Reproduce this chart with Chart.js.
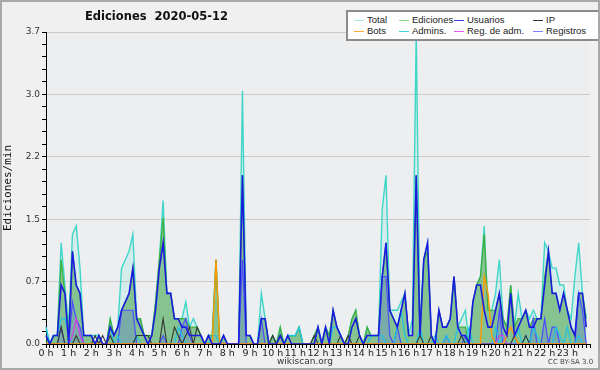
<!DOCTYPE html>
<html>
<head>
<meta charset="utf-8">
<script src="https://cdn.jsdelivr.net/npm/chart.js@4/dist/chart.umd.min.js"></script>
<style>
  body { margin: 0; background: #f0f0f0; }
  #wrap { position: relative; width: 600px; height: 370px; }
  #frame { position: absolute; left: 0; top: 0; width: 600px; height: 370px; box-sizing: border-box; border: 2px solid #a9a9a9; pointer-events: none; }
  #title { position: absolute; left: 85px; top: 9px; font: bold 11.5px "DejaVu Sans"; white-space: pre; color: #111; }
  #legend { position: absolute; left: 346px; top: 10px; width: 244px; height: 25px; background: #fff; border: 2px solid #8c8c8c; box-sizing: content-box;
            display: grid; grid-template-columns: 45px 55px 79px auto; grid-auto-rows: 11px; padding: 2px 0 0 6px; font: 9.5px "Liberation Sans"; color: #222; }
  #legend div { white-space: nowrap; line-height: 11px; }
  #legend span.s { display: inline-block; width: 10px; height: 1.5px; vertical-align: middle; margin-right: 3px; }
  #foot { position: absolute; left: 277px; top: 356px; font: 9px "DejaVu Sans"; color: #333; }
  #cc { position: absolute; left: 548px; top: 358px; font: 7px "DejaVu Sans"; color: #444; }
</style>
</head>
<body>
<div id="wrap">
  <canvas id="chart" width="600" height="370"></canvas>
  <div id="title">Ediciones  2020-05-12</div>
  <div id="legend"></div>
  <div id="foot">wikiscan.org</div>
  <div id="cc">CC BY-SA 3.0</div>
  <div id="frame"></div>
</div>
<script>
// 10 minute buckets, 144 per day
const hourLabels = [];
for (let h = 0; h < 24; h++) hourLabels.push(h + " h");

const yTickLabels = ["0.0", "0.7", "1.5", "2.2", "3.0", "3.7"];

const total = [
  0.2,0,0.1,0.1,1.2,0.7,0.2,1.3,1.4,0.9,
  0.1,0.1,0.1,0.1,0.1,0,0,0.3,0.1,0.2,
  0.9,1.0,1.1,1.3,0.3,0.3,0.1,0.1,0.1,0.5,
  1.0,1.7,0.6,0.6,0.3,0.3,0.3,0.5,0.2,0.3,
  0.2,0.1,0,0.1,0.1,1.0,0,0.1,0,0,
  0,0,3.0,0.1,0.1,0,0,0.6,0.3,0,
  0.1,0,0.2,0,0.1,0.1,0.1,0.2,0,0,
  0,0.1,0.2,0,0.2,0.1,0.4,0.2,0.1,0,
  0.1,0.3,0.4,0.1,0,0.2,0.1,0.1,0.1,1.6,
  2.0,0.4,0.4,0.4,0.5,0.6,0.1,0.3,3.7,0.2,
  1.0,1.2,0.1,0,0.4,0.2,0.2,0.3,0.8,0.2,
  0.3,0.4,0,0.5,0.7,0.8,1.4,0.4,0.4,0.6,
  1.0,0.3,0.2,0.7,0.2,0.6,0.3,0.4,0.3,0.4,
  0.3,0.3,1.2,1.1,0.9,0.9,0.7,0.7,0.4,0.3,
  0.8,1.2,0.6,0.3
];
const ediciones = [
  0.1,0,0.1,0.1,1.0,0.6,0.1,1.1,0.7,0.6,
  0.1,0.1,0.1,0,0.1,0,0,0.3,0.1,0.2,
  0.4,0.5,0.6,0.9,0.3,0.3,0.1,0.1,0.1,0.5,
  1.0,1.5,0.6,0.6,0.3,0.3,0.3,0.3,0.2,0.2,
  0.2,0.1,0,0.1,0.1,1.0,0,0.1,0,0,
  0,0,2.0,0.1,0.1,0,0,0.3,0.3,0,
  0.1,0,0.2,0,0.1,0.1,0.1,0.2,0,0,
  0,0.1,0.2,0,0.2,0.1,0.4,0.2,0.1,0,
  0.1,0.3,0.4,0.1,0,0.2,0.1,0.1,0.1,0.8,
  1.2,0.4,0.3,0.2,0.4,0.6,0.1,0.1,2.0,0.1,
  1.0,1.1,0.1,0,0.4,0.2,0.2,0.3,0.8,0.2,
  0.2,0.2,0,0.5,0.7,0.8,1.3,0.4,0.4,0.4,
  0.6,0.3,0.2,0.7,0.2,0.3,0.3,0.4,0.2,0.3,
  0.3,0.3,0.8,1.1,0.6,0.6,0.4,0.6,0.4,0.2,
  0.1,0.6,0.6,0.3
];
const usuarios = [
  0.1,0,0.1,0.1,0.7,0.6,0,1.1,0.7,0.6,
  0.1,0.1,0.1,0,0.1,0,0,0.2,0.1,0.2,
  0.4,0.5,0.6,0.9,0.3,0.2,0.1,0,0.1,0.4,
  0.9,1.2,0.6,0.6,0.3,0.3,0.2,0.2,0.1,0.1,
  0.1,0.1,0,0.1,0,0,0,0.1,0,0,
  0,0,2.0,0.1,0.1,0,0,0.3,0.3,0,
  0,0,0.1,0,0.1,0,0,0,0,0,
  0,0,0.2,0,0.2,0,0.4,0.2,0.1,0,
  0,0.2,0.3,0.1,0,0.1,0.1,0.1,0.1,0.8,
  1.2,0.4,0.3,0.2,0.4,0.6,0.1,0.1,2.0,0.1,
  1.0,1.2,0.1,0,0.4,0.2,0.2,0.3,0.8,0.2,
  0.1,0.1,0,0.5,0.7,0.7,0.4,0.2,0.2,0.4,
  0.6,0.2,0.1,0.6,0.1,0.2,0.3,0.4,0.2,0.2,
  0.3,0.3,0.7,1.1,0.6,0.6,0.4,0.6,0.4,0.2,
  0.1,0.6,0.6,0.2
];
const ip = [
  0,0,0,0,0.2,0,0,0,0.1,0,
  0,0,0,0.1,0,0.1,0,0.1,0,0,
  0,0,0,0,0.1,0.1,0.1,0.1,0,0,
  0,0.3,0,0,0.2,0.1,0,0.1,0.2,0,
  0.2,0.1,0,0,0,0,0,0,0,0,
  0,0,0,0,0,0,0,0,0,0,
  0.1,0,0.1,0,0,0,0,0,0,0,
  0,0.1,0,0,0,0,0,0,0.1,0,
  0.1,0,0,0.1,0,0,0,0,0,0,
  0,0,0,0,0,0,0,0,0,0.1,
  0,0,0.1,0,0,0,0,0,0,0,
  0.1,0,0,0,0,0,0,0,0,0,
  0,0,0,0,0.1,0,0,0.1,0,0,
  0,0,0,0,0,0,0,0,0,0,
  0,0,0,0
];
const bots = [
  0,0,0,0,0,0,0,0,0,0,
  0,0,0,0,0,0,0,0,0,0,
  0,0,0,0,0,0,0,0,0,0,
  0,0,0,0,0,0,0,0,0,0,
  0,0,0,0,0,1.0,0,0,0,0,
  0,0,0,0,0,0,0,0,0,0,
  0,0,0,0,0,0,0,0,0,0,
  0,0,0,0,0,0,0,0,0,0,
  0,0,0,0,0,0,0,0,0,0,
  0,0,0,0,0,0,0,0,0,0,
  0,0,0,0,0,0,0,0,0,0,
  0,0,0,0,0,0,0.8,0.6,0.1,0,
  0,0,0.1,0.2,0.1,0,0,0,0,0,
  0,0,0,0,0,0,0,0,0,0,
  0,0,0,0
];
const admins = [
  0.2,0,0.1,0.1,0.3,0.3,0.1,0,0,0,
  0,0,0,0,0,0,0,0.2,0,0.1,
  0,0,0,0,0.1,0,0,0,0,0,
  0,0,0,0,0,0.2,0.1,0,0,0,
  0,0,0,0,0.1,0.1,0,0,0,0,
  0,0,0,0,0,0,0,0,0,0,
  0,0,0,0,0.1,0.1,0.1,0.2,0,0,
  0,0,0,0,0,0,0.2,0.2,0.1,0,
  0,0,0,0,0,0,0.1,0.1,0.1,0.1,
  0,0,0,0.2,0.4,0.1,0,0,0,0.2,
  0,0,0,0.1,0,0,0.1,0,0,0.2,
  0.1,0,0.2,0,0,0,0,0,0,0.2,
  0,0.1,0,0,0,0.2,0,0.1,0,0.2,
  0.1,0,0,0,0,0.2,0.1,0,0.2,0,
  0,0.1,0,0
];
const regAdm = [
  0,0,0,0,0,0,0,0.1,0.3,0.1,
  0,0,0,0,0,0,0,0,0,0,
  0,0,0,0,0,0,0,0,0,0,
  0,0,0,0,0,0,0,0,0,0,
  0,0,0,0,0,0,0,0,0,0,
  0,0,0,0,0,0,0,0,0,0,
  0,0,0,0,0,0,0,0,0,0,
  0,0,0,0,0,0,0,0,0,0,
  0,0,0,0,0,0,0,0,0,0,
  0,0,0,0,0,0,0,0,0,0,
  0,0,0,0,0,0,0,0,0,0,
  0,0,0,0,0,0,0,0,0,0,
  0.1,0.1,0,0,0,0,0,0,0,0,
  0,0,0,0,0,0,0,0,0,0,
  0,0,0,0
];
const registros = [
  0,0,0,0,0.2,0,0,0.5,0.3,0.2,
  0,0,0,0,0,0,0,0,0,0,
  0.4,0.4,0.4,0.4,0,0,0,0,0,0,
  0,0.1,0,0,0,0,0.2,0.3,0.1,0,
  0,0,0,0,0,0,0,0,0,0,
  0,0,1.0,0,0,0,0,0.3,0,0,
  0,0,0,0,0,0,0,0,0,0,
  0,0,0,0,0,0,0,0,0,0,
  0,0,0,0,0,0,0,0,0,0.8,
  0.8,0.1,0,0.2,0,0,0,0,0,0,
  0,0,0,0,0,0,0.1,0,0,0,
  0,0.1,0,0,0,0,0,0,0,0,
  0.4,0,0,0,0,0,0,0,0,0.3,
  0,0,0.3,0,0.2,0.2,0,0,0,0,
  0,0.6,0.4,0
];

// x axis: one slot per 10 minutes plus the 24 h end
const xLabels = [];
for (let i = 0; i <= 144; i++) xLabels.push(i % 6 === 0 && i < 144 ? hourLabels[i / 6] : "");

const yTicks = [];
for (let k = 0; k <= 25; k++) yTicks.push(+(k * 0.148).toFixed(3));

function line(label, data, color, width, order, fillColor, legendColor) {
  return {
    label: label,
    data: data,
    borderColor: color,
    borderWidth: width,
    backgroundColor: fillColor || color,
    fill: fillColor ? "origin" : false,
    pointRadius: 0,
    tension: 0,
    order: order,
    legendColor: legendColor || color
  };
}

const datasets = [
  line("Total", total, "#3fd6c8", 1.4, 8, "rgba(64,224,208,0.13)", "#a8ece6"),
  line("Ediciones", ediciones, "#3cae3c", 1.2, 7, "rgba(60,160,60,0.52)", "#8ad98a"),
  line("Usuarios", usuarios, "#1b1be0", 1.6, 1, null, "#3838f0"),
  line("IP", ip, "#333333", 1.1, 4),
  line("Bots", bots, "#ff9900", 1.4, 2, null, "#ffaa33"),
  line("Admins.", admins, "#1ec3e6", 1.2, 5, null, "#3fd0ea"),
  line("Reg. de adm.", regAdm, "#d23fe6", 1.2, 3, null, "#e055f0"),
  line("Registros", registros, "#4c4cff", 1.2, 6, "rgba(80,80,255,0.22)", "#7f7fff")
];

const plotBg = {
  id: "plotBg",
  beforeDraw(chart) {
    const a = chart.chartArea;
    chart.ctx.save();
    chart.ctx.fillStyle = "#eceef0";
    chart.ctx.fillRect(a.left, a.top, a.right - a.left, a.bottom - a.top);
    chart.ctx.restore();
  }
};

Chart.defaults.font.family = "DejaVu Sans";

const chart = new Chart(document.getElementById("chart"), {
  type: "line",
  data: { labels: xLabels, datasets: datasets },
  options: {
    responsive: false,
    animation: false,
    layout: { padding: { left: 0, right: 10, top: 32, bottom: 0 } },
    plugins: { legend: { display: false }, tooltip: { enabled: false } },
    scales: {
      x: {
        type: "category",
        offset: false,
        grid: { drawOnChartArea: false, drawTicks: true, tickLength: 4, tickColor: "#000" },
        border: { color: "#000", width: 1 },
        ticks: { autoSkip: false, maxRotation: 0, padding: 0, color: "#222", font: { size: 9.5 } },
        afterFit(s) { s.height = 26; }
      },
      y: {
        min: 0,
        max: 3.7,
        afterBuildTicks(s) { s.ticks = yTicks.map(v => ({ value: v })); },
        grid: {
          color: ctx => (ctx.index % 5 === 0 && ctx.index > 0 ? "#c9c9c9" : "rgba(0,0,0,0)"),
          tickColor: "#000",
          tickLength: 4
        },
        border: { color: "#000", width: 1 },
        ticks: {
          autoSkip: false,
          padding: 2,
          color: "#333",
          font: { size: 9 },
          callback: (v, i) => (i % 5 === 0 ? yTickLabels[i / 5] : "")
        },
        title: { display: true, text: "Ediciones/min", color: "#111", padding: { top: 2, bottom: 0 }, font: { family: "DejaVu Sans Mono", size: 11 } },
        afterFit(s) { s.width = 46; }
      }
    }
  },
  plugins: [plotBg]
});

// legend box, 4 columns x 2 rows
const legend = document.getElementById("legend");
chart.data.datasets.forEach(ds => {
  const item = document.createElement("div");
  item.innerHTML = `<span class="s" style="background:${ds.legendColor}"></span>${ds.label}`;
  legend.appendChild(item);
});
</script>
</body>
</html>
